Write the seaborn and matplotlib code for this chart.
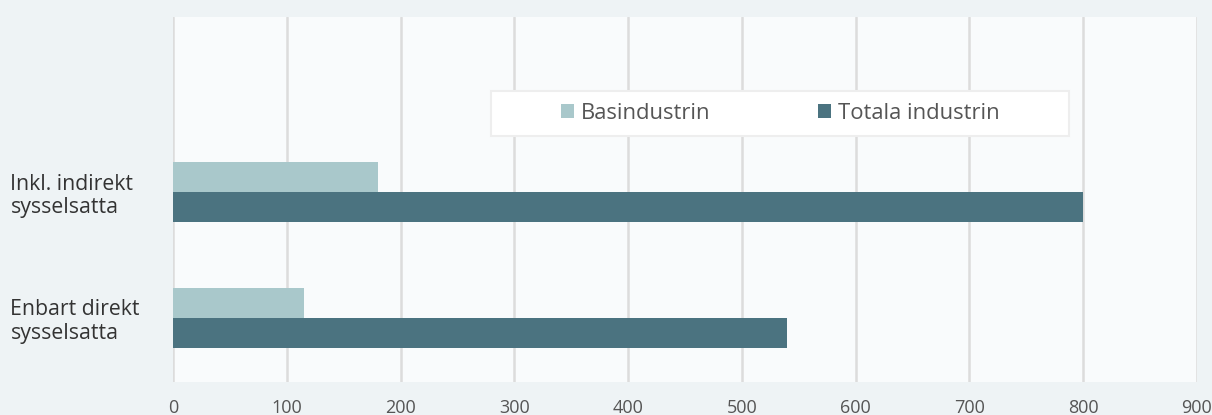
import numpy as np
import pandas as pd
import seaborn as sns
import matplotlib.pyplot as plt
from matplotlib.patches import Rectangle

categories = ["Inkl. indirekt\nsysselsatta", "Enbart direkt\nsysselsatta"]
series = ["Basindustrin", "Totala industrin"]
basindustrin = [180, 115]
totala_industrin = [800, 540]
xticks = [0, 100, 200, 300, 400, 500, 600, 700, 800, 900]

df = pd.DataFrame({
    "kategori": categories * 2,
    "serie": [series[0]] * 2 + [series[1]] * 2,
    "varde": basindustrin + totala_industrin,
})

sns.set_style("white")
plt.rcParams["font.family"] = ["Open Sans", "DejaVu Sans"]

fig = plt.figure(figsize=(12.12, 4.15), dpi=100, facecolor="#eef3f5")
ax = fig.add_axes([173 / 1212, 33 / 415, 1024 / 1212, 365 / 415])
ax.set_facecolor("#f9fbfc")

palette = {"Basindustrin": "#a9c8cb", "Totala industrin": "#4b7380"}
sns.barplot(data=df, y="kategori", x="varde", hue="serie", hue_order=series,
            order=categories, orient="h", palette=palette, width=0.476,
            saturation=1, linewidth=0, ax=ax, zorder=3)

ax.set_xlim(0, 900)
ax.set_ylim(1.508, -1.389)
ax.set_xticks(xticks)
ax.set_xticklabels([str(t) for t in xticks])
ax.xaxis.grid(True, color="#dcdcdc", linewidth=1.8, zorder=0)
ax.set_axisbelow(True)
for s in ax.spines.values():
    s.set_visible(False)
ax.set_xlabel("")
ax.set_ylabel("")
ax.tick_params(axis="x", length=0, pad=12, labelsize=13, labelcolor="#555555")
ax.tick_params(axis="y", length=0, pad=117, labelsize=15.3, labelcolor="#333333")
for lab in ax.get_yticklabels():
    lab.set_horizontalalignment("left")
    lab.set_linespacing(1.15)

# legend box
ax.add_patch(Rectangle(((491 - 173) / 1024, (382 - 136) / 365), 578 / 1024, 45 / 365,
                       transform=ax.transAxes, facecolor="white",
                       edgecolor="#eeeeee", linewidth=1.5, zorder=4))
handles, labels = ax.get_legend_handles_labels()
ax.legend(handles, labels, loc="center", bbox_to_anchor=(0.593, 0.7356),
          ncol=2, frameon=False, fontsize=15.8, handlelength=0.6,
          handleheight=0.6, handletextpad=0.3, columnspacing=4.9,
          labelcolor="#555555").set_zorder(5)

fig.savefig("out.png", dpi=100, facecolor=fig.get_facecolor())
